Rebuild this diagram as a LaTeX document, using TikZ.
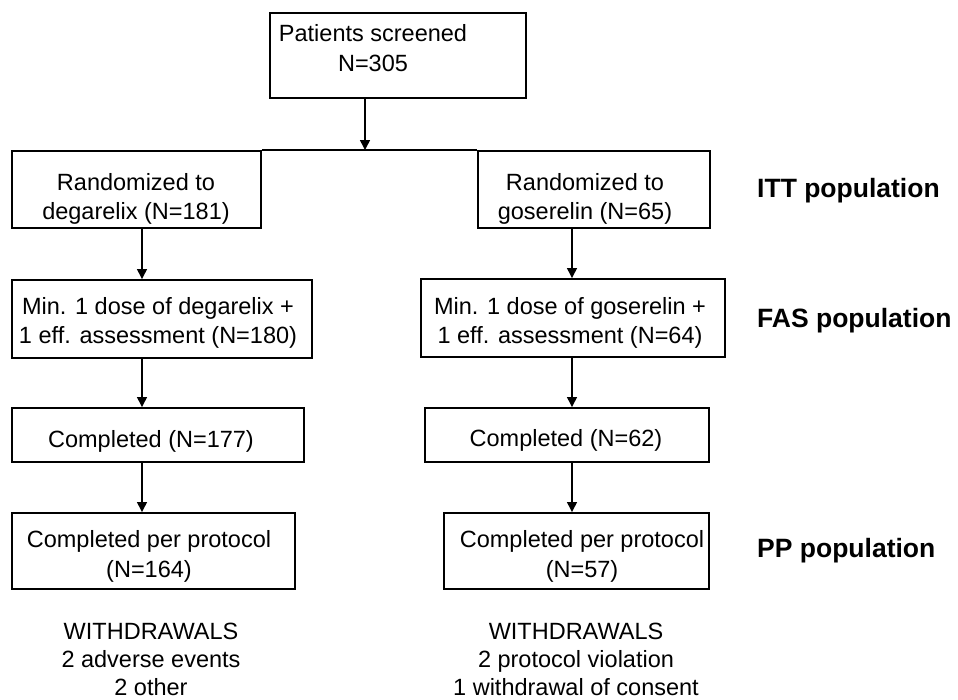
\documentclass[tikz,border=0pt]{standalone}
\usepackage{fontspec}
\setmainfont{Liberation Sans}
\usetikzlibrary{arrows.meta}
\begin{document}
\begin{tikzpicture}[x=1pt,y=-1pt,
  boxshape/.style={draw, line width=1.6pt, inner sep=0pt},
  txt/.style={font=\fontsize{23.5}{29}\selectfont, align=center, inner sep=0pt, anchor=base},
  poplabel/.style={font=\fontsize{26.5}{30}\selectfont\bfseries, inner sep=0pt, anchor=base west},
  arr/.style={line width=2.2pt, -{Triangle[length=10pt,width=9.5pt]}},
  conn/.style={line width=1.6pt}]
\useasboundingbox (0,0) rectangle (958,699);
% boxes
\node[boxshape, minimum width=256pt, minimum height=85pt] (screen) at (398,55.5) {};
\node[boxshape, minimum width=249pt, minimum height=77pt] (lrand) at (136.5,189.5) {};
\node[boxshape, minimum width=232pt, minimum height=77pt] (rrand) at (594,189.5) {};
\node[boxshape, minimum width=300pt, minimum height=78pt] (lmin) at (162,319) {};
\node[boxshape, minimum width=304pt, minimum height=78pt] (rmin) at (573,318) {};
\node[boxshape, minimum width=292pt, minimum height=54pt] (lcomp) at (158,435) {};
\node[boxshape, minimum width=284pt, minimum height=54pt] (rcomp) at (567,435) {};
\node[boxshape, minimum width=283pt, minimum height=76pt] (lpp) at (153.5,551) {};
\node[boxshape, minimum width=265pt, minimum height=76pt] (rpp) at (576.5,551) {};
% texts (base anchor = baseline of the last line)
\node[txt, font=\fontsize{23.5}{30}\selectfont] (tscreen) at (373,71.5) {Patients screened\\N=305};
\node[txt] (tlrand) at (136,219) {Randomized to\\degarelix (N=181)};
\node[txt] (trrand) at (585,219) {Randomized to\\goserelin (N=65)};
\node[txt] (tlmin) at (158,343) {Min. 1 dose of degarelix +\\1 eff. assessment (N=180)};
\node[txt] (trmin) at (570,343) {Min. 1 dose of goserelin +\\1 eff. assessment (N=64)};
\node[txt] (tlcomp) at (151,447) {Completed (N=177)};
\node[txt] (trcomp) at (566,446) {Completed (N=62)};
\node[txt, font=\fontsize{23.5}{30}\selectfont] (tlpp) at (149,577) {Completed per protocol\\(N=164)};
\node[txt, font=\fontsize{23.5}{30}\selectfont] (trpp) at (582,577) {Completed per protocol\\(N=57)};
\node[txt, font=\fontsize{23.5}{28}\selectfont] (lwd) at (151,695) {WITHDRAWALS\\2 adverse events\\2 other};
\node[txt, font=\fontsize{23.5}{28}\selectfont] (rwd) at (576,695) {WITHDRAWALS\\2 protocol violation\\1 withdrawal of consent};
% population labels
\node[poplabel] (itt) at (757,197) {ITT population};
\node[poplabel] (fas) at (757,327) {FAS population};
\node[poplabel] (pp) at (757,557) {PP population};
% arrow columns
\coordinate (tx) at (365,0);
\coordinate (lx) at (142,0);
\coordinate (rx) at (572,0);
% connectors
\draw[conn] (lrand.north east) -- (rrand.north west);
\draw[arr] (screen.south -| tx) -- (lrand.north -| tx);
\draw[arr] (lrand.south -| lx) -- (lmin.north -| lx);
\draw[arr] (lmin.south -| lx) -- (lcomp.north -| lx);
\draw[arr] (lcomp.south -| lx) -- (lpp.north -| lx);
\draw[arr] (rrand.south -| rx) -- (rmin.north -| rx);
\draw[arr] (rmin.south -| rx) -- (rcomp.north -| rx);
\draw[arr] (rcomp.south -| rx) -- (rpp.north -| rx);
\end{tikzpicture}
\end{document}
